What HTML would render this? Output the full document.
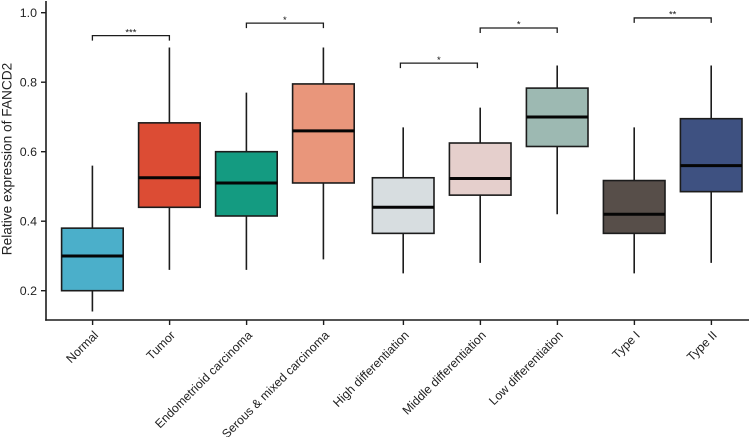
<!DOCTYPE html>
<html lang="en">
<head>
<meta charset="utf-8">
<title>Relative expression of FANCD2</title>
<style>
html,body{margin:0;padding:0;background:#fff;}
svg{display:block;font-family:"Liberation Sans",Arial,sans-serif;}
</style>
</head>
<body>
<svg id="chart" xmlns="http://www.w3.org/2000/svg" width="750" height="437" viewBox="0 0 750 437"></svg>
<script>
const categories = ["Normal","Tumor","Endometrioid carcinoma","Serous & mixed carcinoma","High differentiation","Middle differentiation","Low differentiation","Type I","Type II"];
const panelGroup = [0,0,0,0,1,1,1,1,1];
const whiskerLow = [0.14,0.26,0.26,0.29,0.25,0.28,0.42,0.25,0.28];
const quartile1 = [0.20,0.44,0.415,0.51,0.365,0.475,0.615,0.365,0.485];
const medians = [0.30,0.525,0.51,0.66,0.44,0.523,0.70,0.42,0.56];
const quartile3 = [0.38,0.683,0.60,0.795,0.525,0.625,0.783,0.517,0.695];
const whiskerHigh = [0.56,0.90,0.77,0.90,0.67,0.727,0.848,0.67,0.848];
const boxColors = ["#4BAFCA","#DC4C34","#149B81","#E9967B","#D7DDE0","#E5CFCC","#9DB9B2","#574E49","#3E5181"];
const yTicks = [0.2,0.4,0.6,0.8,1.0];
const bracketFrom = [0,2,4,5,7];
const bracketTo = [1,3,5,6,8];
const bracketLevel = [0.934,0.970,0.855,0.956,0.985];
const bracketLabels = ["***","*","*","*","**"];
const bracketIgnoresPanelGap = [false,false,true,false,false];

const INK = "#1c1c1c";
const svg = document.getElementById("chart");
const NS = "http://www.w3.org/2000/svg";
const yScale = v => 290.7 - (v - 0.2) * 347.5;
const baseX = i => 92.4 + 77 * i;
const xScale = i => baseX(i) + panelGroup[i] * 2.8;
const BOX_W = 61.6;

function make(tag, attrs, parent, text) {
  const el = document.createElementNS(NS, tag);
  for (const k in attrs) el.setAttribute(k, attrs[k]);
  if (text !== undefined) el.textContent = text;
  (parent || svg).appendChild(el);
  return el;
}

/* axes */
const yAxis = make("line", {x1:46, x2:46, y1:1, y2:320.8, stroke:INK, "stroke-width":1.6});


const xAxis = make("line", {x1:45.2, x2:749, y1:320, y2:320, stroke:INK, "stroke-width":1.6});



yTicks.forEach(t => {
  const y = yScale(t);
  const tick = make("line", {x1:41, x2:46, y1:y, y2:y, stroke:INK, "stroke-width":1.4});
  
  
  const label = make("text", {x:37, y:y + 4.4, "text-anchor":"end", "font-size":12.4, fill:"#222"}, svg, t.toFixed(1));
  
  
});

const yTitle = make("text", {transform:"translate(11.5,159) rotate(-90)", "text-anchor":"middle", "font-size":13.7, fill:"#222"}, svg, "Relative expression of FANCD2");



/* boxes */
categories.forEach((name, i) => {
  const x = xScale(i);
  const group = make("g", {});
  
  
  const whisker = make("line", {x1:x, x2:x, y1:yScale(whiskerHigh[i]), y2:yScale(whiskerLow[i]), stroke:INK, "stroke-width":1.6}, group);
  
  
  const box = make("rect", {x:x - BOX_W / 2, y:yScale(quartile3[i]), width:BOX_W, height:yScale(quartile1[i]) - yScale(quartile3[i]), fill:boxColors[i], stroke:INK, "stroke-width":1.6}, group);
  
  
  const median = make("line", {x1:x - BOX_W / 2, x2:x + BOX_W / 2, y1:yScale(medians[i]), y2:yScale(medians[i]), stroke:"#050505", "stroke-width":3}, group);
  
  

  const tick = make("line", {x1:x + 0.2, x2:x + 0.2, y1:320, y2:325, stroke:INK, "stroke-width":1.4});
  
  
  const label = make("text", {transform:"translate(" + (x + 6.5) + ",336) rotate(-45)", "text-anchor":"end", "font-size":12.2, fill:"#222"}, svg, name);
  
  
});

/* significance brackets */
bracketLabels.forEach((star, i) => {
  const pos = bracketIgnoresPanelGap[i] ? baseX : xScale;
  const a = pos(bracketFrom[i]);
  const b = pos(bracketTo[i]);
  const y = yScale(bracketLevel[i]);
  const bracket = make("path", {d:"M" + a + " " + (y + 5) + "V" + y + "H" + b + "V" + (y + 5), fill:"none", stroke:INK, "stroke-width":1.3});
  
  
  const mark = make("text", {x:(a + b) / 2, y:y - 0.3, "text-anchor":"middle", "font-size":9.5, fill:"#111"}, svg, star);
  
  
});
</script>
</body>
</html>
